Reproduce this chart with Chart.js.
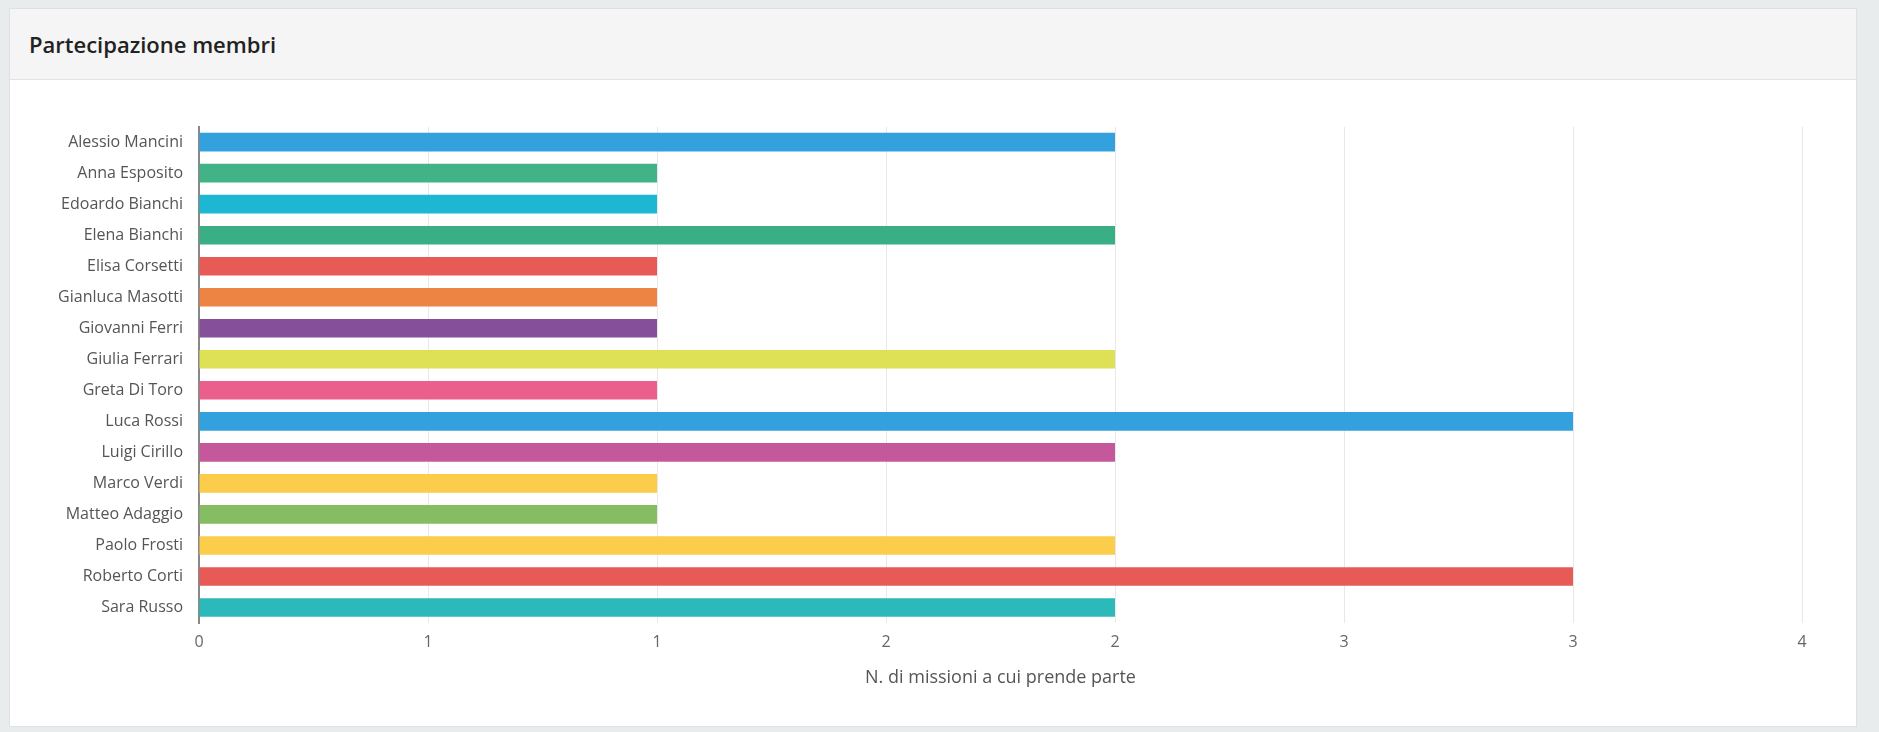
<!DOCTYPE html>
<html>
<head>
<meta charset="utf-8">
<script src="https://cdn.jsdelivr.net/npm/chart.js@4"></script>
<style>
  html, body { margin: 0; padding: 0; background: #e9ecec; font-family: "Open Sans", sans-serif; }
  body { width: 1879px; height: 732px; overflow: hidden; }
  .card { position: absolute; left: 9px; top: 8px; width: 1848px; height: 719px; background: #fff; border: 1px solid #e0e0e0; box-sizing: border-box; }
  .card-header { height: 71px; background: #f5f5f5; border-bottom: 1px solid #e3e3e3; box-sizing: border-box; padding-left: 19px; line-height: 71px; font-size: 22px; font-weight: 600; color: #222; }
  .chart-box { position: absolute; left: 0; top: 100px; width: 1846px; height: 600px; }
</style>
</head>
<body>
<div class="card">
  <div class="card-header">Partecipazione membri</div>
  <div class="chart-box"><canvas id="members-chart"></canvas></div>
</div>
<script>
// member names and number of missions
const members = ['Alessio Mancini', 'Anna Esposito', 'Edoardo Bianchi', 'Elena Bianchi', 'Elisa Corsetti',
    'Gianluca Masotti', 'Giovanni Ferri', 'Giulia Ferrari', 'Greta Di Toro', 'Luca Rossi', 'Luigi Cirillo',
    'Marco Verdi', 'Matteo Adaggio', 'Paolo Frosti', 'Roberto Corti', 'Sara Russo'];
const missions = [2, 1, 1, 2, 1, 1, 1, 2, 1, 3, 2, 1, 1, 2, 3, 2];
const barColors = ['#33a1dd', '#41b387', '#1db7d3', '#3aae84', '#e75a55', '#ee8443', '#864f9a', '#dee156',
    '#ea5f8b', '#33a1dd', '#c5589b', '#fbcd4b', '#86bd62', '#fbcd4b', '#e75a55', '#2cb9b9'];
const tickLabels = ['0', '1', '1', '2', '2', '3', '3', '4'];

new Chart(document.getElementById('members-chart').getContext('2d'), {
    type: 'bar',
    data: {
        labels: members,
        datasets: [{
            data: missions,
            backgroundColor: barColors,
            barPercentage: 0.6,
            categoryPercentage: 1
        }]
    },
    options: {
        indexAxis: 'y',
        responsive: true,
        maintainAspectRatio: false,
        animation: false,
        layout: { padding: { left: 0, right: 54, top: 16, bottom: 16 } },
        plugins: { legend: { display: false }, tooltip: { enabled: false } },
        scales: {
            x: {
                min: 0,
                max: 3.5,
                afterFit: s => { s.height = 70; },
                ticks: {
                    stepSize: 0.5,
                    maxRotation: 0,
                    autoSkip: false,
                    color: '#666',
                    font: { family: 'Open Sans', size: 16 },
                    padding: 10,
                    callback: (v, i) => tickLabels[i]
                },
                grid: { color: '#e8e8e8', drawTicks: false },
                border: { display: false },
                title: {
                    display: true,
                    text: 'N. di missioni a cui prende parte',
                    color: '#555',
                    font: { family: 'Open Sans', size: 18 },
                    padding: { top: 10 }
                }
            },
            y: {
                afterFit: s => { s.width = 189; },
                ticks: { autoSkip: false, color: '#555', font: { family: 'Open Sans', size: 16 }, padding: 8 },
                grid: { display: false },
                border: { color: '#888', width: 2 }
            }
        }
    }
});
</script>
</body>
</html>
